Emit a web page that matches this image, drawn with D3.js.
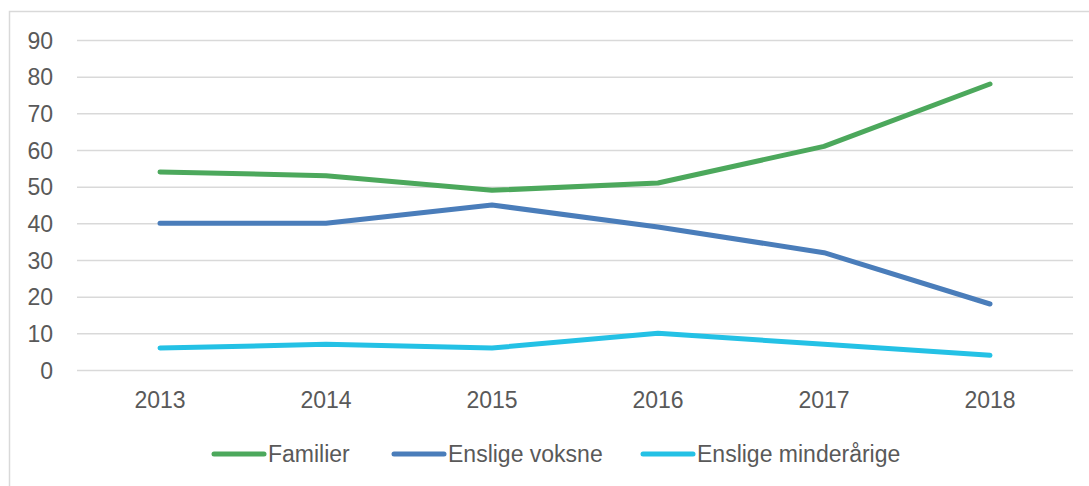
<!DOCTYPE html>
<html><head><meta charset="utf-8">
<script src="https://cdn.jsdelivr.net/npm/d3@7"></script>
<style>body{margin:0;background:#fff}svg{display:block}text{font-family:"Liberation Sans",Arial,sans-serif;fill:#595959}</style>
</head><body><svg id="c" width="1089" height="486"></svg>
<script>
const years = ["2013","2014","2015","2016","2017","2018"];
const familier = [54,53,49,51,61,78];
const ensligeVoksne = [40,40,45,39,32,18];
const ensligeMinder = [6,7,6,10,7,4];
const yTicks = [0,10,20,30,40,50,60,70,80,90];
const seriesNames = ["Familier","Enslige voksne","Enslige minderårige"];
const seriesColors = ["#4CA85C","#4A7DBA","#24C1E5"];
const series = [familier, ensligeVoksne, ensligeMinder];

const svg = d3.select("#c");
svg.append("rect").attr("x",9.5).attr("y",11.5).attr("width",1090).attr("height",490)
  .attr("fill","none").attr("stroke","#d9d9d9").attr("stroke-width",1.5);

const x = d3.scaleBand().domain(years).range([77,1073]);
const y = d3.scaleLinear().domain([0,90]).range([370,40]);

const gy = svg.append("g").attr("transform","translate(77,0)")
  .call(d3.axisLeft(y).tickValues(yTicks).tickSize(-996).tickPadding(24));
gy.select(".domain").remove();
gy.selectAll(".tick line").attr("stroke","#d9d9d9").attr("stroke-width",1.5);
gy.selectAll(".tick text").attr("font-size",23).attr("dy","0.35em");

const gx = svg.append("g").attr("transform","translate(0,370)")
  .call(d3.axisBottom(x).tickSize(0).tickPadding(22));
gx.select(".domain").remove();
gx.selectAll(".tick text").attr("font-size",23).attr("dy","0.71em");

const line = d3.line().x((d,i)=>x(years[i])+x.bandwidth()/2).y(d=>y(d));
series.forEach((s,k)=>{
  svg.append("path").datum(s).attr("d",line).attr("fill","none")
    .attr("stroke",seriesColors[k]).attr("stroke-width",5)
    .attr("stroke-linecap","round").attr("stroke-linejoin","round");
});

const legX = [214, 394, 643];
seriesNames.forEach((n,k)=>{
  const g = svg.append("g").attr("transform",`translate(${legX[k]},454)`);
  g.append("line").attr("x1",0).attr("x2",50).attr("y1",0).attr("y2",0)
    .attr("stroke",seriesColors[k]).attr("stroke-width",5).attr("stroke-linecap","round");
  g.append("text").attr("x",54).attr("y",0).attr("dy","0.35em").attr("font-size",23).text(n);
});
</script></body></html>
